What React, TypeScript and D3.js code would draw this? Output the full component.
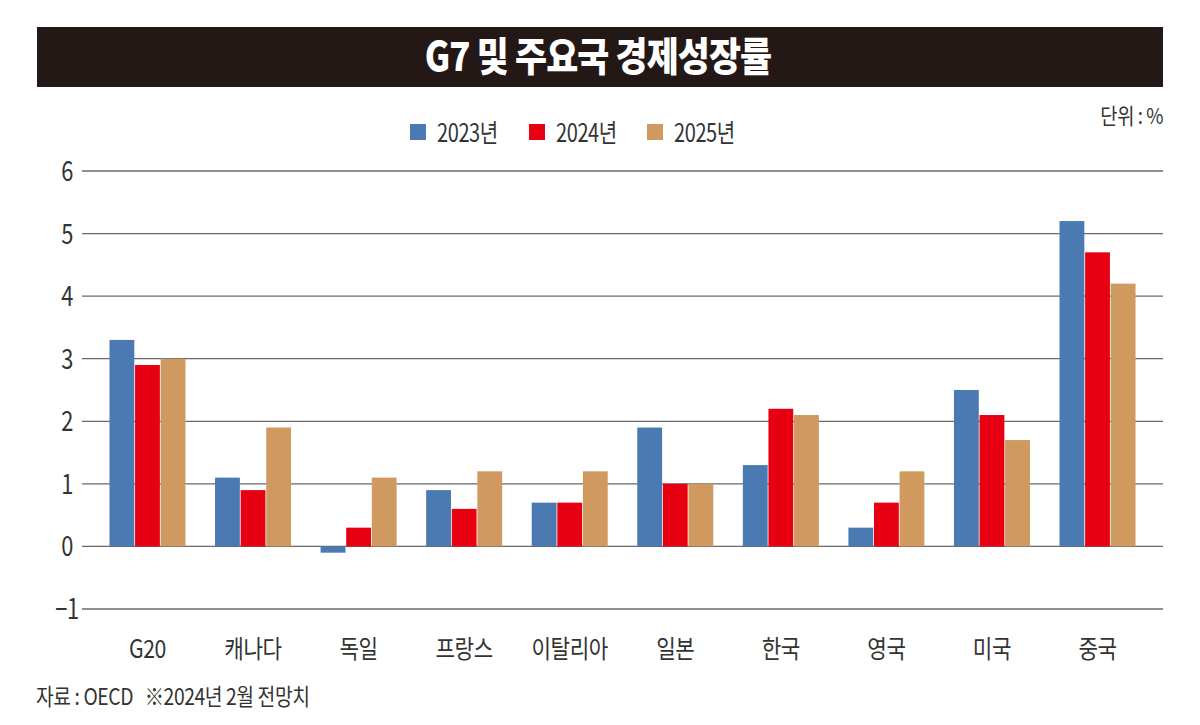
import React from "react";
import * as d3 from "d3";

const categories = ["G20", "캐나다", "독일", "프랑스", "이탈리아", "일본", "한국", "영국", "미국", "중국"];
const seriesNames = ["2023년", "2024년", "2025년"];
const values2023 = [3.3, 1.1, -0.1, 0.9, 0.7, 1.9, 1.3, 0.3, 2.5, 5.2];
const values2024 = [2.9, 0.9, 0.3, 0.6, 0.7, 1.0, 2.2, 0.7, 2.1, 4.7];
const values2025 = [3.0, 1.9, 1.1, 1.2, 1.2, 1.0, 2.1, 1.2, 1.7, 4.2];
const yTicks = [-1, 0, 1, 2, 3, 4, 5, 6];
const colors = ["#4a7ab1", "#e60012", "#cf995f"];

const KFONT = "'Noto Sans CJK KR', sans-serif";

function CText({ x, y, sx = 0.85, anchor = "start", size, children, weight = 400, fill = "#333", ls = -0.5 }: any) {
  return (
    <text
      transform={`translate(${x},${y}) scale(${sx},1)`}
      textAnchor={anchor}
      fill={fill}
      fontFamily={KFONT}
      fontSize={size}
      fontWeight={weight}
      letterSpacing={ls}
      style={{ whiteSpace: "pre" }}
    >
      {children}
    </text>
  );
}

export default function App() {
  const W = 1200, H = 725;
  const left = 82, right = 1163;
  const series = [values2023, values2024, values2025];
  const y = d3.scaleLinear().domain([-1, 6]).range([609, 171]);
  const x0 = d3.scaleBand().domain(categories).range([94.7, 1150.3]).paddingInner(0.28).paddingOuter(0.14);
  const x1 = d3.scaleBand().domain(seriesNames).range([0, x0.bandwidth()]).paddingInner(0.03);

  return (
    <svg width={W} height={H} style={{ position: "absolute", left: 0, top: 0, background: "#fff" }}>
      <rect x={37} y={27} width={1126} height={60} fill="#231815" />
      <CText x={598} y={71} anchor="middle" fill="#fff" weight={900} size={40} sx={0.87} ls={-1}>
        G7 및 주요국 경제성장률
      </CText>
      <CText x={1163} y={124} anchor="end" size={22} sx={0.85}>
        단위 : %
      </CText>
      {seriesNames.map((s, i) => {
        const lx = [410, 529, 647][i];
        return (
          <g key={s}>
            <rect x={lx} y={124} width={16} height={16} fill={colors[i]} />
            <CText x={lx + 27} y={142} size={25} sx={0.8}>{s}</CText>
          </g>
        );
      })}
      {yTicks.map((t) => (
        <g key={t}>
          <line x1={left} x2={right} y1={y(t)} y2={y(t)} stroke="#6a6a6a" strokeWidth={1.3} />
          <CText x={67} y={y(t) + 10} anchor="middle" size={28} sx={0.78}>
            {t < 0 ? "−" + Math.abs(t) : t}
          </CText>
        </g>
      ))}
      {categories.map((c, ci) => (
        <g key={c} transform={`translate(${x0(c)},0)`}>
          {series.map((vals, si) => {
            const v = vals[ci];
            return (
              <rect
                key={si}
                x={x1(seriesNames[si])}
                y={Math.min(y(v), y(0))}
                width={x1.bandwidth()}
                height={Math.abs(y(v) - y(0))}
                fill={colors[si]}
              />
            );
          })}
          <CText x={x0.bandwidth() / 2} y={658} anchor="middle" size={25} sx={0.85}>
            {c}
          </CText>
        </g>
      ))}
      <CText x={36} y={705} size={23} sx={0.84}>
        {"자료 : OECD   ※2024년 2월 전망치"}
      </CText>
    </svg>
  );
}
